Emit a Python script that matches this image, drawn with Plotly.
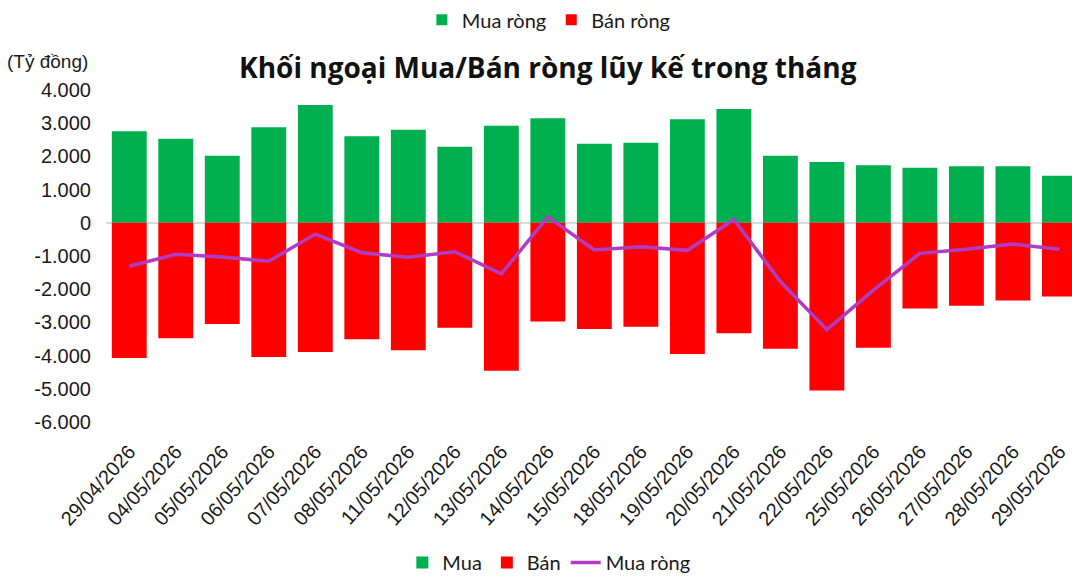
import plotly.graph_objects as go

dates = ["29/04/2026", "04/05/2026", "05/05/2026", "06/05/2026", "07/05/2026",
         "08/05/2026", "11/05/2026", "12/05/2026", "13/05/2026", "14/05/2026",
         "15/05/2026", "18/05/2026", "19/05/2026", "20/05/2026", "21/05/2026",
         "22/05/2026", "25/05/2026", "26/05/2026", "27/05/2026", "28/05/2026",
         "29/05/2026"]
mua = [2760, 2530, 2020, 2880, 3550, 2610, 2800, 2290, 2920, 3150,
       2380, 2410, 3120, 3430, 2020, 1830, 1730, 1660, 1700, 1700, 1420]
ban = [-4070, -3480, -3050, -4040, -3890, -3510, -3840, -3160, -4460, -2970,
       -3200, -3130, -3950, -3330, -3790, -5050, -3760, -2580, -2500, -2340, -2220]
mua_rong = [-1310, -950, -1030, -1160, -340, -900, -1040, -870, -1540, 180,
            -820, -720, -830, 100, -1770, -3220, -2030, -920, -800, -640, -800]
y_ticks = [4000, 3000, 2000, 1000, 0, -1000, -2000, -3000, -4000, -5000, -6000]
y_tick_labels = ["4.000", "3.000", "2.000", "1.000", "0", "-1.000", "-2.000",
                 "-3.000", "-4.000", "-5.000", "-6.000"]

GREEN = "#00B050"
RED = "#FF0000"
PURPLE = "#B03CC3"
TXT = "#1a1a1a"

fig = go.Figure()
fig.add_trace(go.Bar(x=dates, y=mua, name="Mua", marker=dict(color=GREEN, line=dict(width=0)),
                     legend="legend"))
fig.add_trace(go.Bar(x=dates, y=ban, name="Bán", marker=dict(color=RED, line=dict(width=0)),
                     legend="legend"))
fig.add_trace(go.Scatter(x=dates, y=mua_rong, name="Mua ròng", mode="lines",
                         line=dict(color=PURPLE, width=3.5), legend="legend"))
# top legend entries
fig.add_trace(go.Scatter(x=[None], y=[None], name="Mua ròng", mode="markers",
                         marker=dict(symbol="square", size=11, color=GREEN), legend="legend2"))
fig.add_trace(go.Scatter(x=[None], y=[None], name="Bán ròng", mode="markers",
                         marker=dict(symbol="square", size=11, color=RED), legend="legend2"))

n = len(dates)
boundaries = [i - 0.5 for i in range(n)]

fig.update_layout(
    width=1072, height=582,
    margin=dict(l=106, r=0, t=90, b=160),
    paper_bgcolor="white", plot_bgcolor="white",
    barmode="relative", bargap=0.25,
    font=dict(family="Liberation Sans, Arial, sans-serif", color=TXT),
    title=dict(text="<b>Khối ngoại Mua/Bán ròng lũy kế trong tháng</b>",
               x=0.511, xref="container", xanchor="center",
               y=0.883, yref="container", yanchor="middle",
               font=dict(family="Open Sans, sans-serif", size=28, color="#111111")),
    xaxis=dict(type="category", range=[-0.5, n - 1 + 0.27], tickangle=-48,
               tickfont=dict(size=20, color=TXT), showline=False, ticks="",
               showgrid=False, zeroline=False, ticklabelstandoff=13, automargin=False),
    xaxis2=dict(overlaying="x", anchor="free", position=0.6, side="bottom",
                range=[-0.5, n - 1 + 0.27], tickvals=boundaries, ticks="outside",
                ticklen=6, tickcolor="#CCCCCC", showticklabels=False,
                showline=True, linecolor="#D9D9D9", linewidth=1.5, showgrid=False,
                zeroline=False),
    yaxis=dict(range=[-6000, 4000], tickvals=y_ticks, ticktext=y_tick_labels,
               tickfont=dict(size=20, color=TXT), showgrid=False, zeroline=True,
               zerolinecolor="#D9D9D9", zerolinewidth=1.5, showline=False,
               ticks="", ticklabelstandoff=14, automargin=False),
    legend=dict(orientation="h", xref="container", x=0.512, xanchor="center",
                yref="container", y=-0.03, yanchor="bottom",
                font=dict(family="Lato, sans-serif", size=20, color=TXT),
                traceorder="normal", itemwidth=30),
    legend2=dict(orientation="h", xref="container", x=0.512, xanchor="center",
                 yref="container", y=0.966, yanchor="middle",
                 font=dict(family="Lato, sans-serif", size=20, color=TXT),
                 traceorder="normal", itemwidth=30),
    showlegend=True,
)
fig.add_annotation(text="(Tỷ đồng)", xref="paper", x=-0.017, xanchor="right",
                   yref="paper", y=(422 - 61) / 332, yanchor="middle",
                   showarrow=False, font=dict(size=19, color=TXT))

fig.write_html("out.html", post_script="document.body.style.margin='0px';",
               config={"displayModeBar": False})
